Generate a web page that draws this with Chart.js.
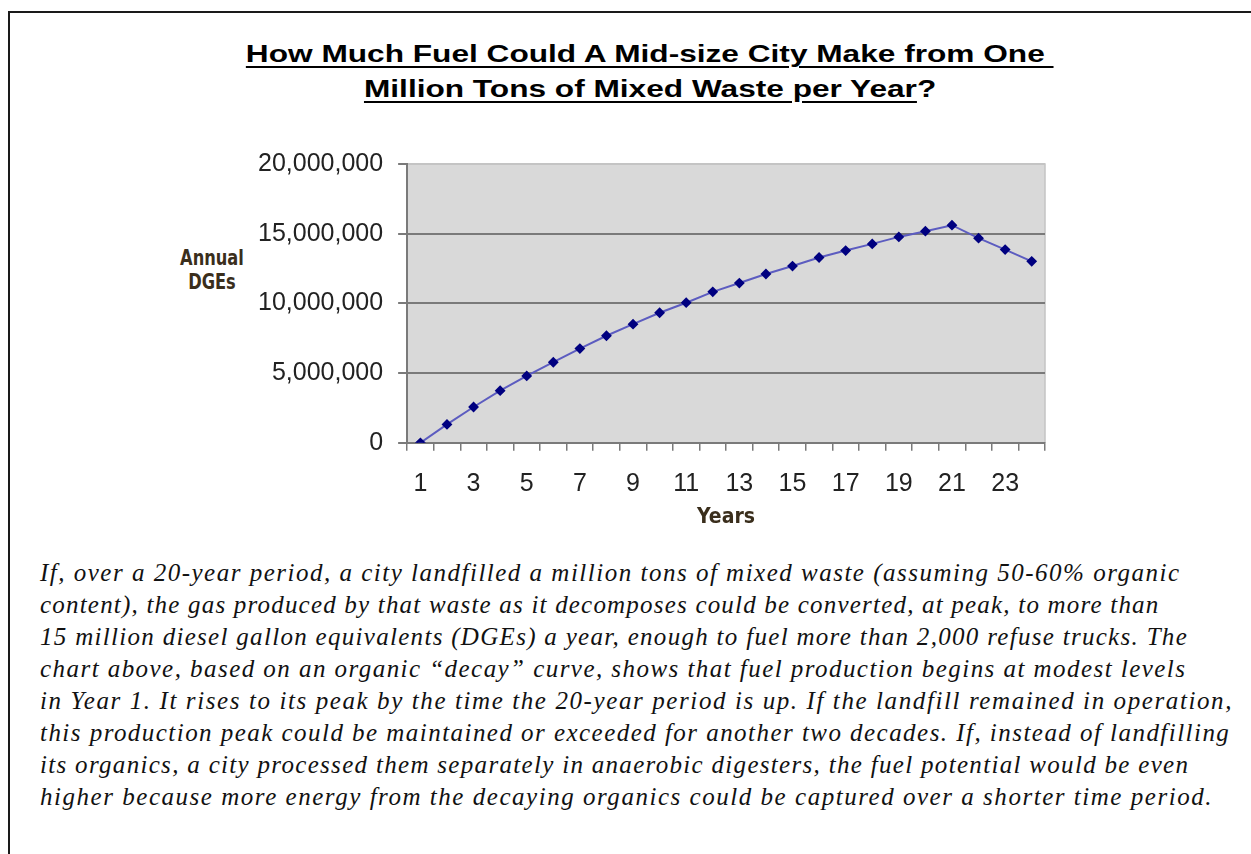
<!DOCTYPE html>
<html>
<head>
<meta charset="utf-8">
<script src="https://cdn.jsdelivr.net/npm/chart.js@4.4.1/dist/chart.umd.min.js"></script>
<style>
  body { margin: 0; background: #fff; width: 1251px; height: 854px; overflow: hidden; position: relative; }
  .frame { position: absolute; left: 8px; top: 11px; width: 1300px; height: 1000px; border: 2px solid #1a1a1a; box-sizing: border-box; }
  .title { position: absolute; left: 0; top: 37px; width: 1300px; text-align: center; font-family: "Liberation Sans", Arial, sans-serif; font-weight: bold; font-size: 23px; line-height: 35px; color: #000; }
  .title span { display: inline-block; transform: scaleX(1.375); white-space: pre; }
  .title u { text-decoration-thickness: 2px; text-underline-offset: 4px; }
  .ylab { position: absolute; left: 160px; top: 246px; width: 104px; text-align: center; font-family: "Liberation Sans Narrow", "DejaVu Sans Condensed", sans-serif; font-weight: bold; font-size: 21px; line-height: 24px; color: #3a2e1c; transform: scaleX(0.86); }
  .chartbox { position: absolute; left: 230px; top: 134px; width: 840px; height: 404px; }
  .text { position: absolute; left: 40px; top: 557px; font-family: "Liberation Serif", "Times New Roman", serif; font-style: italic; font-size: 25px; line-height: 32px; color: #111; white-space: nowrap; }
</style>
</head>
<body>
<div class="frame"></div>
<div class="title"><span><u>How Much Fuel Could A Mid-size City Make from One </u></span><br><span><u>Million Tons of Mixed Waste per Year</u>?</span></div>
<div class="ylab">Annual<br>DGEs</div>
<div class="chartbox"><canvas id="fuelChart"></canvas></div>
<div class="text">
<div style="letter-spacing:1.5px">If, over a 20-year period, a city landfilled a million tons of mixed waste (assuming 50-60% organic</div>
<div style="letter-spacing:1.2px">content), the gas produced by that waste as it decomposes could be converted, at peak, to more than</div>
<div style="letter-spacing:1.3px">15 million diesel gallon equivalents (DGEs) a year, enough to fuel more than 2,000 refuse trucks. The</div>
<div style="letter-spacing:1.45px">chart above, based on an organic “decay” curve, shows that fuel production begins at modest levels</div>
<div style="letter-spacing:1.6px">in Year 1. It rises to its peak by the time the 20-year period is up. If the landfill remained in operation,</div>
<div style="letter-spacing:1.46px">this production peak could be maintained or exceeded for another two decades. If, instead of landfilling</div>
<div style="letter-spacing:1.31px">its organics, a city processed them separately in anaerobic digesters, the fuel potential would be even</div>
<div style="letter-spacing:1.53px">higher because more energy from the decaying organics could be captured over a shorter time period.</div>
</div>
<script>
const years = ['1', '2', '3', '4', '5', '6', '7', '8', '9', '10', '11', '12',
               '13', '14', '15', '16', '17', '18', '19', '20', '21', '22', '23', '24'];
const annualDGEs = [0, 1320000, 2570000, 3740000, 4800000, 5780000, 6760000, 7680000,
                    8510000, 9330000, 10050000, 10830000, 11460000, 12110000, 12680000, 13290000,
                    13790000, 14270000, 14770000, 15180000, 15610000, 14680000, 13860000, 13020000];
const yTicks = [0, 5000000, 10000000, 15000000, 20000000];

// grey plot area like the spreadsheet chart
const plotBg = {
  id: 'plotBg',
  beforeDraw(chart) {
    const a = chart.chartArea, c = chart.ctx;
    c.save();
    c.fillStyle = '#d9d9d9';
    c.fillRect(a.left, a.top, a.right - a.left, a.bottom - a.top);
    c.strokeStyle = '#c4c4c4';
    c.lineWidth = 1.5;
    c.beginPath();
    c.moveTo(a.left, a.top);
    c.lineTo(a.right, a.top);
    c.lineTo(a.right, a.bottom);
    c.stroke();
    c.restore();
  }
};

const tickFont = { family: "'Liberation Sans', Arial, sans-serif", size: 25 };

new Chart(document.getElementById('fuelChart').getContext('2d'), {
  type: 'line',
  data: {
    labels: years,
    datasets: [{
      label: 'Annual DGEs',
      data: annualDGEs,
      borderColor: '#5c5cc0',
      borderWidth: 2,
      pointStyle: 'rectRot',
      pointRadius: 4,
      pointBackgroundColor: '#000080',
      pointBorderColor: '#000080',
      tension: 0
    }]
  },
  options: {
    responsive: true,
    maintainAspectRatio: false,
    animation: false,
    layout: { padding: { left: 13, right: 25, top: 2, bottom: 8 } },
    plugins: {
      legend: { display: false },
      tooltip: { enabled: false }
    },
    scales: {
      x: {
        offset: true,
        grid: { offset: true, drawOnChartArea: false, color: '#7a7a7a', tickLength: 8, lineWidth: 1.5 },
        border: { color: '#7a7a7a', width: 2 },
        ticks: {
          autoSkip: false,
          maxRotation: 0,
          padding: 18,
          color: '#222',
          font: tickFont,
          callback: (v, i) => (i % 2 === 0 ? years[i] : '')
        },
        title: {
          display: true,
          text: 'Years',
          color: '#3a2e1c',
          padding: { top: -12, bottom: 0 },
          font: { family: "'Liberation Sans Narrow', 'DejaVu Sans Condensed', sans-serif", size: 21, weight: 'bold' }
        }
      },
      y: {
        min: 0,
        max: 20000000,
        afterBuildTicks: (axis) => { axis.ticks = yTicks.map(v => ({ value: v })); },
        grid: {
          color: (ctx) => (ctx.tick && ctx.tick.value === 20000000 ? '#c4c4c4' : '#7a7a7a'),
          lineWidth: 2,
          tickLength: 9,
          tickColor: '#7a7a7a'
        },
        border: { color: '#7a7a7a', width: 2 },
        ticks: {
          padding: 15,
          color: '#222',
          font: tickFont,
          callback: (v) => v.toLocaleString('en-US')
        }
      }
    }
  },
  plugins: [plotBg]
});
</script>
</body>
</html>
